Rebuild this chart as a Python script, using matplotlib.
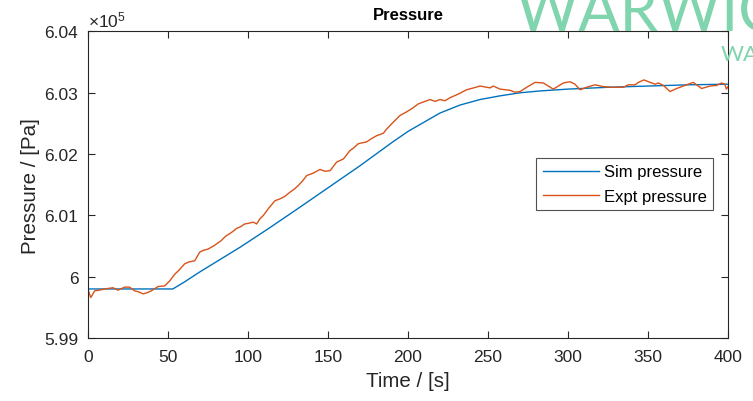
import numpy as np
import matplotlib
matplotlib.use("Agg")
import matplotlib.pyplot as plt

plt.rcParams['font.family'] = ['Liberation Sans', 'DejaVu Sans']
plt.rcParams['mathtext.fontset'] = 'custom'
plt.rcParams['mathtext.rm'] = 'Liberation Sans'

# Simulated pressure (x1e5 Pa)
t_sim = [0, 53, 60, 70, 80, 95, 112.5, 130, 150, 170, 190, 200, 210, 220,
         232.5, 245, 257.5, 270, 282.5, 300, 325, 350, 375, 400]
p_sim = [5.9980, 5.9980, 5.9991, 6.0008, 6.0024, 6.0048, 6.0078, 6.0109,
         6.0145, 6.0181, 6.0219, 6.0237, 6.0252, 6.0267, 6.0280, 6.0289,
         6.0295, 6.0300, 6.0303, 6.0306, 6.0309, 6.0311, 6.0313, 6.0314]

# Experimental pressure (x1e5 Pa)
t_expt = [0, 1.7, 4.2, 7, 10.4, 13, 15.6, 18.7, 22.9, 26, 29, 32, 34.4, 37,
          39.6, 43.8, 47.9, 51, 54.2, 57, 60.4, 63, 66.7, 69.8, 72, 75, 79,
          83.3, 86, 89.6, 93, 95, 97.9, 100, 103.3, 105.4, 107.3, 109.6, 113,
          116.9, 120, 123, 126.3, 129, 131.5, 134, 136.7, 140.8, 145, 148.1,
          151.3, 155.4, 159.6, 163.8, 166, 169, 174.2, 177, 180.4, 184.6,
          186.7, 190, 195, 199.2, 202.3, 206.5, 209.6, 213.8, 216.9, 220,
          223.1, 226.3, 231.5, 236.7, 241, 245, 251.3, 253.3, 257.5, 263.8,
          266.9, 270, 274.2, 279.4, 284.6, 290.8, 297.1, 301.3, 304.4, 307.5,
          311.7, 316.9, 322.1, 328.3, 334.6, 337.7, 341.9, 344, 347.5, 351.3,
          354.4, 356.5, 359.6, 363.8, 367.9, 373.1, 378.3, 383.5, 388.8,
          392.9, 396, 398, 399, 400]
p_expt = [5.9979, 5.9966, 5.9977, 5.9978, 5.9980, 5.9981, 5.9982, 5.9978,
          5.9983, 5.9983, 5.9977, 5.9975, 5.9972, 5.9974, 5.9977, 5.9984,
          5.9985, 5.9993, 6.0004, 6.0011, 6.0021, 6.0024, 6.0026, 6.0040,
          6.0043, 6.0045, 6.0051, 6.0059, 6.0066, 6.0072, 6.0079, 6.0081,
          6.0086, 6.0087, 6.0089, 6.0086, 6.0094, 6.0100, 6.0112, 6.0124,
          6.0127, 6.0131, 6.0138, 6.0143, 6.0149, 6.0156, 6.0165, 6.0169,
          6.0175, 6.0172, 6.0173, 6.0187, 6.0192, 6.0206, 6.0210, 6.0217,
          6.0220, 6.0225, 6.0230, 6.0234, 6.0241, 6.0250, 6.0263, 6.0269,
          6.0274, 6.0282, 6.0285, 6.0289, 6.0286, 6.0289, 6.0287, 6.0292,
          6.0298, 6.0305, 6.0308, 6.0311, 6.0308, 6.0311, 6.0306, 6.0304,
          6.0301, 6.0302, 6.0309, 6.0317, 6.0316, 6.0306, 6.0316, 6.0318,
          6.0314, 6.0305, 6.0309, 6.0313, 6.0310, 6.0309, 6.0309, 6.0313,
          6.0313, 6.0317, 6.0321, 6.0317, 6.0314, 6.0316, 6.0312, 6.0302,
          6.0307, 6.0312, 6.0317, 6.0307, 6.0311, 6.0312, 6.0316, 6.0314,
          6.0306, 6.0310]

x_ticks = [0, 50, 100, 150, 200, 250, 300, 350, 400]
y_ticks = [5.99, 6.00, 6.01, 6.02, 6.03, 6.04]
y_labels = ['5.99', '6', '6.01', '6.02', '6.03', '6.04']

fig = plt.figure(figsize=(7.53, 4.02), dpi=100)

# watermark behind the axes
green = '#80d4ae'
fig.text(0.684, 0.922, 'WARWICK', fontsize=44, color=green,
         family=['Lato', 'DejaVu Sans'], fontweight='normal', va='baseline', ha='left')
fig.text(0.957, 0.848, 'WAR', fontsize=16, color=green,
         family=['Lato', 'DejaVu Sans'], fontweight='normal', va='baseline', ha='left')

ax = fig.add_axes([0.1169, 0.1567, 0.8499, 0.7625])
ax.set_facecolor('white')

ax.plot(t_sim, p_sim, color='#0072BD', lw=1.0, label='Sim pressure')
ax.plot(t_expt, p_expt, color='#D95319', lw=1.0, label='Expt pressure')

dark = '#262626'
ax.set_xlim(0, 400)
ax.set_ylim(5.99, 6.04)
ax.set_xticks(x_ticks)
ax.set_yticks(y_ticks)
ax.set_yticklabels(y_labels)
ax.tick_params(direction='in', length=5, width=0.8, colors=dark,
               labelsize=12.5, top=True, right=True)
ax.tick_params(axis='x', pad=8)
ax.tick_params(axis='y', pad=7)
for s in ax.spines.values():
    s.set_color(dark)
    s.set_linewidth(0.8)

ax.set_xlabel('Time / [s]', fontsize=14.8, color=dark, labelpad=5)
ax.set_ylabel('Pressure / [Pa]', fontsize=14.8, color=dark, labelpad=3)
ax.set_title('Pressure', fontsize=12, fontweight='bold', color='black', pad=9)
ax.text(0.0, 1.008, r'$\mathregular{\times10^5}$', transform=ax.transAxes,
        fontsize=12.5, color=dark, ha='left', va='bottom')

leg = ax.legend(loc='upper right', bbox_to_anchor=(0.977, 0.588), fontsize=12,
                frameon=True, fancybox=False, handlelength=3.35,
                borderpad=0.4, labelspacing=0.55, handletextpad=0.3,
                borderaxespad=0)
leg.get_frame().set_edgecolor(dark)
leg.get_frame().set_linewidth(0.8)

fig.savefig('out.png', dpi=100)
